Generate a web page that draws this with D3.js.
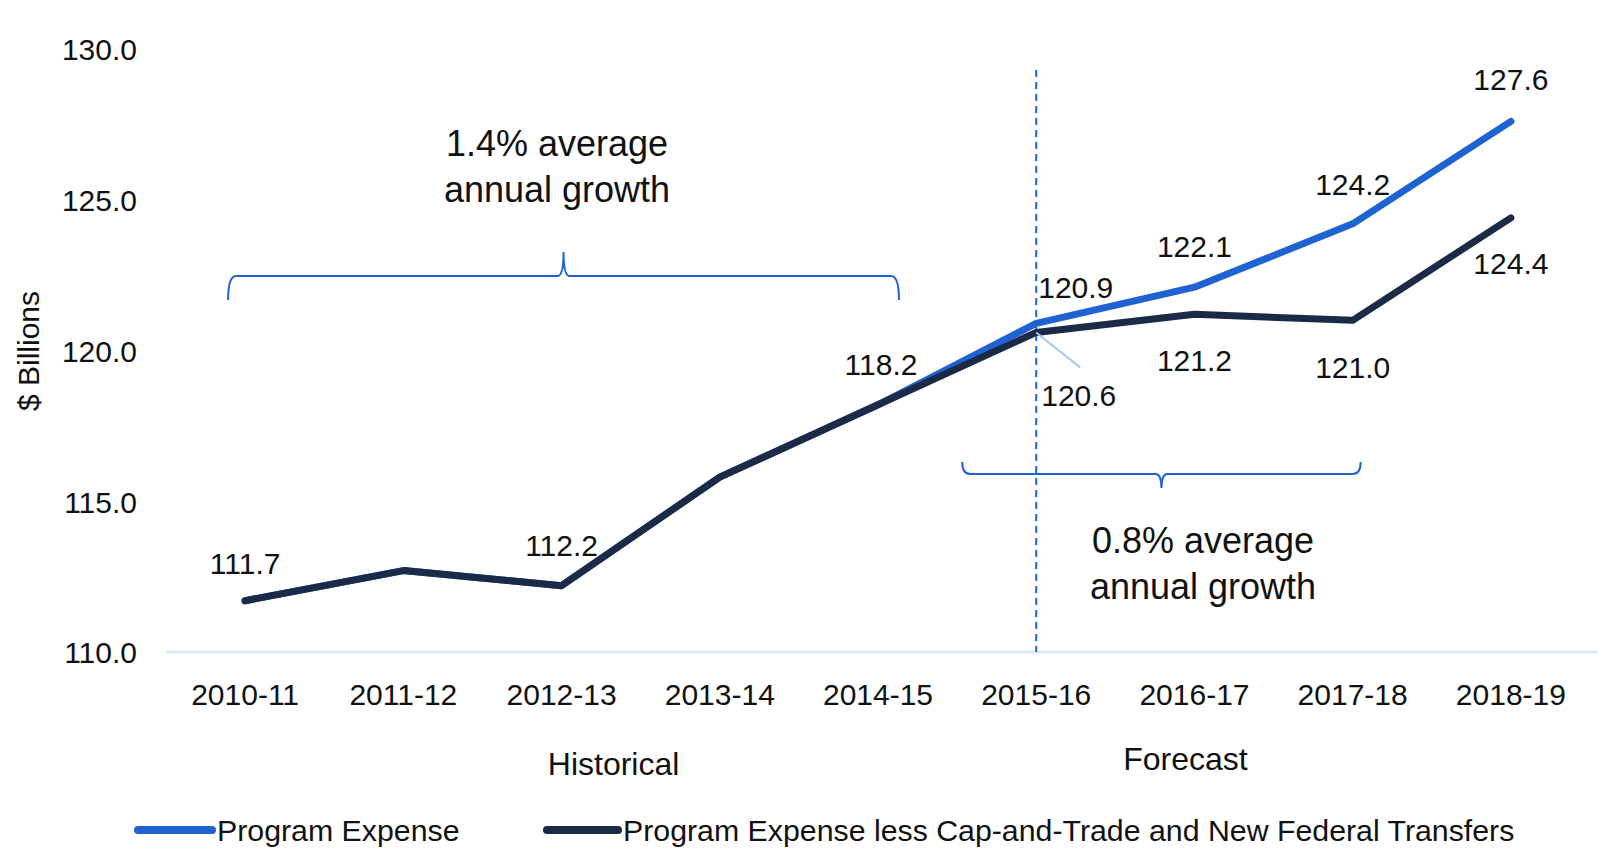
<!DOCTYPE html>
<html>
<head>
<meta charset="utf-8">
<script src="https://cdn.jsdelivr.net/npm/d3@7"></script>
<style>
  html, body { margin: 0; padding: 0; background: #fff; }
  svg text { font-family: "Liberation Sans", Arial, Helvetica, sans-serif; fill: #111; }
</style>
</head>
<body>
<div id="chart"></div>
<script>
const categories = ['2010-11', '2011-12', '2012-13', '2013-14', '2014-15', '2015-16', '2016-17', '2017-18', '2018-19'];
const programExpense = [111.7, 112.7, 112.2, 115.8, 118.2, 120.9, 122.1, 124.2, 127.6];
const programExpenseLess = [111.7, 112.7, 112.2, 115.8, 118.2, 120.6, 121.2, 121.0, 124.4];
const yTicks = [110, 115, 120, 125, 130];
const seriesNames = ['Program Expense', 'Program Expense less Cap-and-Trade and New Federal Transfers'];
const periodLabels = ['Historical', 'Forecast'];
const growthNotes = [['1.4% average', 'annual growth'], ['0.8% average', 'annual growth']];

const width = 1611;
const height = 864;
const blue = '#1F63D2';
const navy = '#1B2A47';

const svg = d3.select('#chart').append('svg')
  .attr('width', width)
  .attr('height', height);

const x = d3.scaleBand()
  .domain(categories)
  .range([166, 1590]);
const cx = (c) => x(c) + x.bandwidth() / 2;

const y = d3.scaleLinear()
  .domain([110, 130])
  .range([652, 49]);

// y axis labels
const yAxis = d3.axisLeft(y)
  .tickValues(yTicks)
  .tickFormat(d3.format('.1f'))
  .tickSize(0)
  .tickPadding(0);

const yG = svg.append('g')
  .attr('transform', 'translate(137,0)')
  .call(yAxis);
yG.select('.domain').remove();
yG.selectAll('.tick text')
  .attr('dy', '0.36em')
  .style('font-size', '30px')
  .style('fill', '#111');

svg.append('text')
  .attr('transform', 'translate(39,351) rotate(-90)')
  .attr('text-anchor', 'middle')
  .style('font-size', '30px')
  .text('$ Billions');

// x axis
const xAxis = d3.axisBottom(x)
  .tickSize(0)
  .tickPadding(0);
const xG = svg.append('g')
  .attr('transform', `translate(0,${y(110)})`)
  .call(xAxis);
xG.select('.domain').remove();
xG.selectAll('.tick text')
  .attr('dy', 0)
  .attr('y', 53)
  .style('font-size', '30px')
  .style('fill', '#111');

svg.append('line')
  .attr('x1', 166)
  .attr('x2', 1598)
  .attr('y1', y(110))
  .attr('y2', y(110))
  .style('stroke', '#dce8f8')
  .style('stroke-width', 3);

svg.append('text')
  .attr('x', cx(categories[2]) + 52)
  .attr('y', 775)
  .attr('text-anchor', 'middle')
  .style('font-size', '32px')
  .text(periodLabels[0]);

svg.append('text')
  .attr('x', cx(categories[6]) - 9)
  .attr('y', 770)
  .attr('text-anchor', 'middle')
  .style('font-size', '32px')
  .text(periodLabels[1]);

// forecast divider
svg.append('line')
  .attr('x1', cx(categories[5]))
  .attr('x2', cx(categories[5]))
  .attr('y1', 70)
  .attr('y2', y(110))
  .style('stroke', blue)
  .style('stroke-width', 2)
  .style('stroke-dasharray', '7,5');

// brackets
function bracket(x0, x1, yH, endDy, tipDy) {
  const xm = (x0 + x1) / 2;
  const r = 8;
  return `M${x0},${yH + endDy} Q${x0},${yH} ${x0 + r},${yH} L${xm - 6},${yH} ` +
    `Q${xm},${yH} ${xm},${yH + tipDy} Q${xm},${yH} ${xm + 6},${yH} ` +
    `L${x1 - r},${yH} Q${x1},${yH} ${x1},${yH + endDy}`;
}

svg.append('path')
  .attr('d', bracket(cx(categories[0]) - 17, cx(categories[4]) + 21, y(122.47), 24, -24))
  .style('fill', 'none')
  .style('stroke', blue)
  .style('stroke-width', 2);

svg.append('path')
  .attr('d', bracket(cx(categories[5]) - 74, cx(categories[7]) + 8, y(115.9), -12, 14))
  .style('fill', 'none')
  .style('stroke', blue)
  .style('stroke-width', 2);

growthNotes[0].forEach((t, i) => {
  svg.append('text')
    .attr('x', 557)
    .attr('y', 156 + i * 46)
    .attr('text-anchor', 'middle')
    .style('font-size', '36px')
    .text(t);
});
growthNotes[1].forEach((t, i) => {
  svg.append('text')
    .attr('x', 1203)
    .attr('y', 553 + i * 46)
    .attr('text-anchor', 'middle')
    .style('font-size', '36px')
    .text(t);
});

// lines
const line = d3.line()
  .x((d, i) => cx(categories[i]))
  .y((d) => y(d));

svg.append('path')
  .datum(programExpense)
  .attr('d', line)
  .style('fill', 'none')
  .style('stroke', blue)
  .style('stroke-width', 7)
  .style('stroke-linecap', 'round')
  .style('stroke-linejoin', 'round');

svg.append('path')
  .datum(programExpenseLess)
  .attr('d', line)
  .style('fill', 'none')
  .style('stroke', navy)
  .style('stroke-width', 7)
  .style('stroke-linecap', 'round')
  .style('stroke-linejoin', 'round');

// leader line for 120.6
svg.append('line')
  .attr('x1', cx(categories[5]))
  .attr('y1', y(programExpenseLess[5]))
  .attr('x2', cx(categories[5]) + 44)
  .attr('y2', y(programExpenseLess[5]) + 35)
  .style('stroke', '#a7c5f0')
  .style('stroke-width', 2);

// data labels
const fmt = d3.format('.1f');
const labelSpecs = [
  { s: programExpense, i: 5, dx: 2, dy: -25, anchor: 'start' },
  { s: programExpense, i: 6, dx: 0, dy: -30, anchor: 'middle' },
  { s: programExpense, i: 7, dx: 0, dy: -29, anchor: 'middle' },
  { s: programExpense, i: 8, dx: 0, dy: -31, anchor: 'middle' },
  { s: programExpenseLess, i: 0, dx: 0, dy: -27, anchor: 'middle' },
  { s: programExpenseLess, i: 2, dx: 0, dy: -30, anchor: 'middle' },
  { s: programExpenseLess, i: 4, dx: 3, dy: -30, anchor: 'middle' },
  { s: programExpenseLess, i: 5, dx: 5, dy: 74, anchor: 'start' },
  { s: programExpenseLess, i: 6, dx: 0, dy: 57, anchor: 'middle' },
  { s: programExpenseLess, i: 7, dx: 0, dy: 58, anchor: 'middle' },
  { s: programExpenseLess, i: 8, dx: 0, dy: 56, anchor: 'middle' }
];

svg.append('g')
  .selectAll('text')
  .data(labelSpecs)
  .join('text')
  .attr('x', (d) => cx(categories[d.i]) + d.dx)
  .attr('y', (d) => y(d.s[d.i]) + d.dy)
  .attr('text-anchor', (d) => d.anchor)
  .style('font-size', '30px')
  .text((d) => fmt(d.s[d.i]));

// legend
const legend = svg.append('g');
const legendItems = [
  { name: seriesNames[0], color: blue, x0: 138, x1: 212, tx: 217 },
  { name: seriesNames[1], color: navy, x0: 547, x1: 618, tx: 623 }
];
legendItems.forEach((item) => {
  legend.append('line')
    .attr('x1', item.x0)
    .attr('x2', item.x1)
    .attr('y1', 830)
    .attr('y2', 830)
    .style('stroke', item.color)
    .style('stroke-width', 8)
    .style('stroke-linecap', 'round');
  legend.append('text')
    .attr('x', item.tx)
    .attr('y', 841)
    .style('font-size', '30.3px')
    .text(item.name);
});
</script>
</body>
</html>
